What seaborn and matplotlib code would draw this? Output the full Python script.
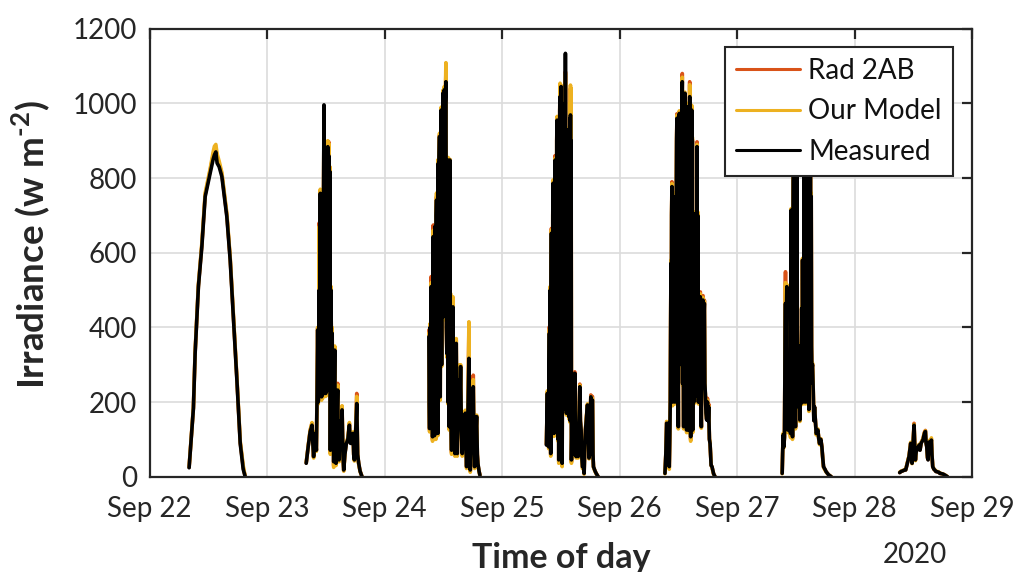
import matplotlib
matplotlib.use("Agg")
import matplotlib.pyplot as plt
import matplotlib.dates as mdates
import pandas as pd
import seaborn as sns

# Irradiance per day: (hour of day, Measured, Our Model, Rad 2AB) in W m^-2
sep22 = [
    (8.08, 24, 26, 25), (8.96, 183, 186, 185), (9.31, 330, 335, 333),
    (9.98, 509, 515, 512), (10.68, 616, 625, 620), (11.36, 750, 760, 755),
    (12.38, 813, 825, 820), (12.99, 850, 870, 862), (13.25, 862, 885, 875),
    (13.54, 870, 890, 880), (13.8, 840, 865, 852), (14.22, 830, 845, 838),
    (14.77, 804, 815, 810), (15.79, 696, 705, 700), (16.47, 580, 588, 584),
    (17.15, 420, 428, 424), (17.84, 259, 265, 262), (18.52, 89, 95, 92),
    (19.13, 20, 30, 25), (19.54, 0, 0, 0),
]

sep23 = [
    (8.0, 36, 38, 37), (8.4, 80, 82, 81), (8.8, 120, 125, 123),
    (9.18, 138, 145, 143), (9.35, 90, 92, 91), (9.51, 54, 50, 52),
    (9.7, 100, 104, 102), (9.86, 116, 120, 118), (10.07, 71, 68, 70),
    (10.2, 200, 210, 208), (10.34, 393, 400, 398), (10.45, 200, 195, 198),
    (10.54, 214, 220, 218), (10.65, 500, 670, 680), (10.75, 230, 225, 228),
    (10.88, 759, 770, 765), (11.0, 230, 220, 225), (11.15, 214, 205, 210),
    (11.25, 600, 620, 615), (11.36, 220, 210, 215), (11.5, 650, 660, 655),
    (11.63, 996, 960, 965), (11.75, 240, 230, 235), (11.85, 700, 710, 705),
    (11.98, 223, 215, 220), (12.1, 800, 815, 810), (12.25, 230, 220, 225),
    (12.4, 884, 900, 895), (12.5, 240, 230, 235), (12.6, 860, 893, 897),
    (12.73, 250, 240, 245), (12.85, 817, 830, 828), (12.93, 71, 60, 65),
    (13.05, 500, 510, 505), (13.2, 260, 250, 255), (13.3, 384, 400, 395),
    (13.41, 100, 90, 95), (13.5, 300, 348, 340), (13.61, 40, 25, 30),
    (13.72, 250, 255, 252), (13.82, 339, 350, 345), (13.95, 60, 50, 55),
    (14.09, 36, 30, 33), (14.25, 150, 155, 152), (14.43, 232, 245, 250),
    (14.55, 60, 55, 58), (14.7, 45, 40, 42), (14.85, 120, 125, 122),
    (14.98, 150, 155, 153), (15.15, 80, 78, 79), (15.32, 179, 190, 188),
    (15.5, 60, 55, 58), (15.66, 18, 15, 16), (15.9, 60, 62, 61),
    (16.2, 89, 92, 90), (16.5, 100, 104, 102), (16.82, 138, 145, 142),
    (17.0, 90, 92, 91), (17.16, 89, 90, 90), (17.35, 110, 113, 112),
    (17.57, 116, 120, 118), (17.7, 60, 58, 59), (17.84, 45, 42, 44),
    (18.1, 120, 125, 123), (18.32, 196, 215, 223), (18.5, 60, 58, 59),
    (18.72, 36, 33, 35), (19.0, 15, 14, 15), (19.4, 0, 0, 0),
]

sep24 = [
    (9.05, 375, 385, 393), (9.12, 200, 195, 198), (9.2, 129, 120, 125),
    (9.3, 400, 410, 408), (9.4, 150, 145, 148), (9.53, 509, 520, 536),
    (9.62, 130, 125, 128), (9.72, 450, 460, 455), (9.8, 107, 95, 100),
    (9.87, 600, 610, 605), (9.94, 643, 660, 674), (10.02, 140, 135, 138),
    (10.1, 550, 560, 555), (10.2, 110, 100, 105), (10.28, 670, 665, 674),
    (10.38, 200, 195, 198), (10.48, 116, 100, 108), (10.55, 700, 710, 705),
    (10.62, 741, 760, 750), (10.7, 150, 145, 148), (10.8, 650, 660, 655),
    (10.89, 116, 110, 113), (10.96, 839, 850, 845), (11.05, 220, 215, 218),
    (11.15, 850, 860, 855), (11.23, 911, 920, 915), (11.3, 250, 245, 248),
    (11.37, 214, 205, 210), (11.47, 900, 910, 905), (11.57, 982, 990, 985),
    (11.65, 300, 295, 298), (11.75, 960, 970, 965), (11.85, 430, 425, 428),
    (11.91, 1027, 1035, 1030), (12.0, 450, 445, 448), (12.05, 429, 420, 425),
    (12.12, 980, 990, 985), (12.19, 1036, 1045, 1040), (12.3, 500, 495, 498),
    (12.4, 1000, 1010, 1005), (12.53, 1058, 1109, 1085), (12.63, 400, 395, 398),
    (12.73, 330, 320, 325), (12.85, 820, 830, 825), (12.93, 200, 195, 198),
    (13.01, 848, 855, 852), (13.1, 300, 295, 298), (13.21, 134, 125, 130),
    (13.28, 700, 710, 705), (13.35, 848, 850, 849), (13.42, 250, 245, 248),
    (13.48, 420, 491, 480), (13.58, 150, 145, 148), (13.69, 71, 60, 65),
    (13.8, 300, 310, 305), (13.96, 455, 482, 470), (14.06, 200, 195, 198),
    (14.16, 321, 330, 325), (14.26, 150, 145, 148), (14.37, 62, 55, 58),
    (14.5, 200, 205, 202), (14.64, 357, 370, 365), (14.75, 150, 145, 148),
    (14.85, 62, 55, 58), (15.0, 150, 155, 152), (15.12, 259, 299, 290),
    (15.22, 180, 178, 179), (15.32, 152, 150, 151), (15.42, 220, 225, 222),
    (15.53, 295, 300, 298), (15.7, 120, 118, 119), (15.87, 62, 55, 58),
    (16.05, 120, 122, 121), (16.21, 152, 158, 155), (16.35, 100, 98, 99),
    (16.48, 170, 178, 175), (16.62, 80, 78, 79), (16.76, 27, 22, 25),
    (17.0, 150, 155, 152), (17.23, 317, 415, 400), (17.35, 100, 98, 99),
    (17.51, 18, 12, 15), (17.7, 120, 122, 121), (17.85, 161, 165, 163),
    (18.0, 150, 152, 151), (18.12, 241, 260, 272), (18.25, 100, 98, 99),
    (18.39, 27, 22, 25), (18.6, 100, 102, 101), (18.8, 161, 165, 163),
    (18.95, 60, 58, 59), (19.07, 35, 30, 33), (19.3, 15, 14, 15),
    (19.48, 4, 3, 4),
]

sep25 = [
    (9.06, 85, 88, 86), (9.15, 150, 155, 152), (9.26, 223, 230, 226),
    (9.35, 110, 108, 109), (9.45, 90, 88, 89), (9.53, 80, 75, 78),
    (9.6, 300, 310, 305), (9.67, 384, 395, 402), (9.75, 120, 115, 118),
    (9.85, 500, 510, 505), (9.94, 62, 55, 58), (10.0, 400, 410, 405),
    (10.08, 652, 661, 665), (10.15, 150, 145, 148), (10.22, 600, 610, 605),
    (10.29, 125, 118, 120), (10.36, 700, 710, 705), (10.42, 786, 795, 790),
    (10.5, 200, 195, 198), (10.55, 650, 660, 655), (10.62, 116, 108, 112),
    (10.7, 780, 790, 785), (10.77, 300, 295, 298), (10.83, 848, 853, 860),
    (10.9, 150, 145, 148), (10.97, 800, 810, 805), (11.03, 200, 195, 198),
    (11.1, 196, 190, 193), (11.17, 900, 910, 905), (11.24, 955, 965, 960),
    (11.3, 300, 295, 298), (11.38, 850, 860, 855), (11.45, 100, 95, 98),
    (11.52, 900, 910, 905), (11.58, 45, 36, 40), (11.65, 950, 960, 955),
    (11.72, 250, 245, 248), (11.78, 980, 990, 985), (11.85, 1018, 1054, 1045),
    (11.92, 200, 195, 198), (11.99, 1000, 1010, 1005), (12.06, 1045, 1049, 1047),
    (12.13, 150, 145, 148), (12.2, 950, 960, 955), (12.27, 36, 27, 30),
    (12.33, 300, 295, 298), (12.4, 900, 910, 905), (12.47, 180, 175, 178),
    (12.54, 938, 945, 940), (12.6, 300, 295, 298), (12.67, 900, 910, 905),
    (12.74, 241, 235, 238), (12.8, 1000, 1005, 1002), (12.87, 200, 195, 198),
    (12.94, 1134, 1080, 1085), (13.0, 180, 175, 178), (13.08, 900, 910, 905),
    (13.15, 170, 165, 168), (13.22, 850, 860, 855), (13.3, 200, 195, 198),
    (13.36, 900, 930, 920), (13.42, 929, 933, 931), (13.5, 300, 295, 298),
    (13.56, 850, 860, 855), (13.63, 161, 155, 158), (13.7, 880, 890, 885),
    (13.77, 200, 195, 198), (13.85, 960, 1000, 990), (13.91, 150, 145, 148),
    (13.97, 969, 1049, 1040), (14.05, 300, 295, 298), (14.1, 900, 1040, 1030),
    (14.17, 45, 36, 40), (14.3, 150, 152, 151), (14.4, 200, 205, 202),
    (14.51, 152, 150, 151), (14.6, 60, 55, 58), (14.7, 150, 152, 151),
    (14.85, 277, 275, 281), (14.95, 150, 148, 149), (15.05, 60, 55, 58),
    (15.13, 54, 50, 52), (15.3, 100, 102, 101), (15.4, 60, 58, 59),
    (15.54, 54, 50, 52), (15.7, 150, 155, 152), (15.88, 241, 245, 248),
    (16.0, 150, 148, 149), (16.15, 125, 122, 124), (16.3, 50, 45, 48),
    (16.42, 27, 22, 25), (16.6, 30, 28, 29), (16.76, 9, 7, 8),
    (16.9, 80, 82, 81), (17.04, 125, 128, 127), (17.25, 160, 165, 163),
    (17.45, 192, 195, 194), (17.6, 120, 118, 119), (17.75, 50, 48, 49),
    (17.92, 62, 60, 61), (18.0, 150, 155, 153), (18.13, 214, 215, 219),
    (18.3, 200, 205, 210), (18.47, 205, 210, 215), (18.57, 60, 58, 59),
    (18.67, 27, 25, 26), (19.0, 15, 14, 15), (19.22, 9, 8, 9),
    (19.63, 0, 0, 0),
]

sep26 = [
    (9.27, 9, 8, 9), (9.45, 60, 62, 61), (9.61, 143, 148, 146),
    (9.8, 143, 146, 145), (9.95, 143, 146, 145), (10.05, 60, 58, 59),
    (10.15, 27, 20, 24), (10.25, 100, 102, 101), (10.36, 205, 210, 208),
    (10.43, 400, 410, 405), (10.5, 571, 580, 575), (10.57, 300, 295, 298),
    (10.63, 700, 710, 705), (10.7, 777, 785, 790), (10.77, 400, 395, 398),
    (10.83, 200, 190, 195), (10.9, 500, 510, 505), (10.97, 277, 300, 290),
    (11.04, 600, 610, 605), (11.11, 750, 760, 755), (11.18, 393, 400, 397),
    (11.25, 700, 710, 705), (11.31, 200, 195, 198), (11.38, 214, 210, 212),
    (11.45, 750, 760, 755), (11.52, 300, 295, 298), (11.59, 759, 770, 765),
    (11.65, 900, 910, 905), (11.72, 960, 968, 972), (11.79, 200, 195, 198),
    (11.86, 900, 910, 905), (11.93, 400, 395, 398), (12.0, 134, 128, 131),
    (12.07, 950, 960, 955), (12.13, 300, 295, 298), (12.2, 973, 980, 977),
    (12.27, 600, 605, 602), (12.33, 950, 960, 955), (12.4, 330, 325, 328),
    (12.47, 800, 810, 805), (12.54, 950, 960, 955), (12.61, 960, 970, 965),
    (12.68, 300, 295, 298), (12.75, 1000, 1010, 1005), (12.81, 1058, 1070, 1080),
    (12.88, 250, 245, 248), (12.95, 900, 910, 905), (13.02, 400, 395, 398),
    (13.09, 134, 128, 131), (13.16, 900, 910, 905), (13.23, 300, 295, 298),
    (13.3, 950, 960, 955), (13.36, 1027, 1030, 1025), (13.43, 500, 495, 498),
    (13.5, 900, 910, 905), (13.56, 840, 850, 845), (13.63, 300, 295, 298),
    (13.7, 125, 118, 122), (13.77, 850, 860, 855), (13.84, 250, 245, 248),
    (13.91, 991, 1000, 995), (13.98, 300, 295, 298), (14.04, 900, 910, 905),
    (14.11, 125, 118, 122), (14.18, 950, 960, 955), (14.25, 300, 295, 298),
    (14.32, 1018, 1050, 1058), (14.38, 250, 245, 248), (14.45, 600, 610, 605),
    (14.52, 107, 95, 100), (14.59, 700, 710, 705), (14.66, 250, 245, 248),
    (14.73, 982, 995, 990), (14.8, 300, 295, 298), (14.86, 900, 910, 905),
    (14.93, 125, 118, 122), (15.0, 600, 610, 605), (15.07, 300, 295, 298),
    (15.13, 705, 710, 708), (15.2, 200, 195, 198), (15.27, 500, 510, 505),
    (15.34, 214, 210, 212), (15.45, 300, 305, 302), (15.55, 259, 255, 257),
    (15.61, 259, 255, 257), (15.68, 700, 710, 705), (15.75, 300, 295, 298),
    (15.82, 884, 890, 897), (15.9, 400, 395, 398), (15.96, 700, 710, 705),
    (16.02, 500, 495, 498), (16.1, 200, 195, 198), (16.16, 350, 355, 352),
    (16.22, 277, 275, 276), (16.3, 450, 455, 452), (16.38, 200, 195, 198),
    (16.45, 480, 488, 492), (16.5, 482, 490, 495), (16.57, 300, 295, 298),
    (16.63, 200, 195, 198), (16.7, 134, 130, 132), (16.8, 400, 405, 402),
    (16.9, 250, 245, 248), (17.0, 470, 478, 482), (17.04, 473, 480, 485),
    (17.12, 300, 295, 298), (17.2, 400, 405, 402), (17.32, 464, 470, 473),
    (17.42, 250, 245, 248), (17.52, 223, 220, 222), (17.65, 170, 172, 171),
    (17.79, 152, 155, 154), (17.95, 200, 205, 210), (18.1, 150, 152, 151),
    (18.2, 187, 190, 195), (18.35, 100, 102, 101), (18.48, 89, 90, 89),
    (18.7, 30, 32, 31), (18.88, 27, 25, 26), (19.2, 8, 7, 8),
    (19.5, 0, 0, 0),
]

sep27 = [
    (9.21, 9, 8, 9), (9.3, 60, 62, 61), (9.41, 112, 116, 114),
    (9.55, 80, 78, 79), (9.68, 107, 105, 106), (9.78, 300, 310, 305),
    (9.89, 464, 520, 549), (9.97, 200, 195, 198), (10.05, 400, 410, 405),
    (10.16, 509, 515, 512), (10.25, 200, 195, 198), (10.37, 125, 118, 122),
    (10.5, 300, 305, 302), (10.64, 152, 148, 150), (10.78, 250, 255, 252),
    (10.91, 116, 105, 110), (10.98, 500, 510, 505), (11.05, 714, 718, 716),
    (11.15, 200, 195, 198), (11.25, 450, 455, 452), (11.32, 107, 100, 104),
    (11.4, 600, 610, 605), (11.5, 950, 960, 955), (11.59, 900, 910, 905),
    (11.68, 300, 295, 298), (11.78, 800, 810, 805), (11.86, 200, 195, 198),
    (11.93, 134, 128, 131), (12.05, 600, 610, 605), (12.15, 545, 550, 548),
    (12.21, 980, 990, 985), (12.3, 400, 395, 398), (12.4, 250, 245, 248),
    (12.55, 187, 182, 185), (12.65, 350, 355, 352), (12.75, 200, 195, 198),
    (12.82, 152, 148, 150), (12.95, 300, 305, 302), (13.09, 196, 192, 194),
    (13.2, 450, 455, 452), (13.3, 250, 245, 248), (13.37, 580, 585, 583),
    (13.47, 200, 195, 198), (13.57, 214, 210, 212), (13.65, 700, 710, 705),
    (13.72, 950, 960, 955), (13.8, 300, 295, 298), (13.85, 1020, 1030, 1025),
    (13.93, 200, 195, 198), (14.0, 900, 910, 905), (14.06, 250, 245, 248),
    (14.12, 205, 200, 202), (14.2, 850, 860, 855), (14.28, 300, 295, 298),
    (14.35, 950, 960, 955), (14.4, 200, 195, 198), (14.46, 1060, 1070, 1065),
    (14.53, 250, 245, 248), (14.6, 850, 860, 855), (14.67, 180, 175, 178),
    (14.73, 241, 238, 240), (14.8, 700, 710, 705), (14.87, 250, 245, 248),
    (14.93, 900, 910, 905), (15.0, 880, 890, 885), (15.07, 300, 295, 298),
    (15.14, 750, 760, 755), (15.21, 350, 345, 348), (15.28, 286, 280, 283),
    (15.4, 300, 305, 302), (15.55, 232, 236, 234), (15.68, 150, 152, 151),
    (15.82, 187, 185, 187), (16.0, 150, 148, 149), (16.16, 116, 112, 114),
    (16.35, 120, 122, 121), (16.5, 125, 128, 126), (16.7, 100, 98, 99),
    (16.84, 89, 86, 88), (17.1, 100, 102, 101), (17.32, 80, 78, 79),
    (17.5, 50, 48, 49), (17.66, 27, 25, 26), (17.95, 20, 18, 19),
    (18.21, 13, 12, 13), (18.7, 5, 5, 5), (19.23, 0, 0, 0),
]

sep28 = [
    (9.21, 11, 12, 11), (9.5, 14, 15, 14), (9.9, 16, 17, 16),
    (10.2, 18, 19, 18), (10.44, 18, 19, 18), (10.78, 36, 38, 37),
    (11.12, 54, 56, 55), (11.46, 89, 92, 90), (11.6, 60, 62, 61),
    (11.74, 36, 35, 36), (11.95, 90, 93, 92), (12.15, 138, 140, 143),
    (12.3, 80, 82, 81), (12.42, 45, 43, 44), (12.6, 70, 72, 71),
    (12.76, 71, 73, 72), (13.03, 80, 82, 81), (13.2, 85, 87, 86),
    (13.37, 71, 73, 72), (13.6, 90, 92, 91), (13.78, 94, 97, 96),
    (14.0, 100, 103, 102), (14.19, 112, 115, 116), (14.33, 118, 120, 121),
    (14.47, 121, 123, 124), (14.6, 90, 92, 91), (14.74, 80, 82, 81),
    (14.9, 50, 52, 51), (15.01, 45, 47, 46), (15.2, 90, 93, 92),
    (15.35, 94, 98, 96), (15.5, 80, 84, 82), (15.69, 98, 104, 100),
    (15.8, 60, 62, 61), (15.96, 27, 28, 27), (16.2, 20, 21, 20),
    (16.37, 18, 19, 18), (16.6, 14, 15, 14), (16.92, 13, 14, 13),
    (17.2, 12, 12, 12), (17.4, 9, 10, 9), (17.8, 8, 8, 8),
    (18.08, 7, 7, 7), (18.5, 4, 4, 4), (18.97, 0, 0, 0),
]

daily_tables = [sep22, sep23, sep24, sep25, sep26, sep27, sep28]
first_day = pd.Timestamp("2020-09-22")
series_names = ["Rad 2AB", "Our Model", "Measured"]
series_colors = ["#D95319", "#EDB120", "#000000"]
column_of = {"Measured": 1, "Our Model": 2, "Rad 2AB": 3}

rows = []
for day_index, table in enumerate(daily_tables):
    for record in table:
        stamp = first_day + pd.Timedelta(days=day_index, hours=record[0])
        for name in series_names:
            rows.append({"time": stamp, "irradiance": record[column_of[name]],
                         "series": name, "day": day_index})
df = pd.DataFrame(rows)

sns.set_style("white")
plt.rcParams["font.family"] = ["Lato", "DejaVu Sans"]
plt.rcParams["mathtext.fontset"] = "custom"
plt.rcParams["mathtext.rm"] = "Lato"
plt.rcParams["mathtext.bf"] = "Lato:bold"

ink = "#262626"
fig = plt.figure(figsize=(10.18, 5.72), dpi=100)
ax = fig.add_axes([0.1469, 0.1666, 0.8080, 0.7832])

sns.lineplot(data=df, x="time", y="irradiance", hue="series", units="day",
             estimator=None, hue_order=series_names, palette=series_colors,
             linewidth=2.6, sort=False, ax=ax)

ax.set_xlim(first_day, first_day + pd.Timedelta(days=7))
ax.set_ylim(0, 1200)
ax.set_yticks(range(0, 1201, 200))
ax.xaxis.set_major_locator(mdates.DayLocator())
ax.xaxis.set_major_formatter(mdates.DateFormatter("%b %d"))

ax.grid(True, color="#DCDCDC", linewidth=1.2)
ax.set_axisbelow(True)
for spine in ax.spines.values():
    spine.set_visible(True)
    spine.set_color(ink)
    spine.set_linewidth(1.6)
ax.tick_params(direction="in", length=7, width=1.6, top=True, right=True,
               labelsize=20, color=ink, labelcolor=ink)
ax.tick_params(axis="x", pad=14)
ax.tick_params(axis="y", pad=9)

ax.set_xlabel("Time of day", fontsize=24.5, fontweight="bold", color=ink)
ax.xaxis.set_label_coords(0.5, -0.145)
ax.set_ylabel("Irradiance (w m$^{\\mathbf{\u20102}}$)", fontsize=26.5,
              fontweight="bold", color=ink)
ax.yaxis.set_label_coords(-0.116, 0.517)
fig.text(0.8984, 0.016, "2020", fontsize=20, color=ink, ha="center")

handles, labels = ax.get_legend_handles_labels()
leg = ax.legend(handles, labels, loc="upper right",
                bbox_to_anchor=(0.9769, 0.9598), borderaxespad=0,
                fancybox=False, framealpha=1, edgecolor=ink, fontsize=20,
                handlelength=2.3, handletextpad=0.3, labelspacing=0.52,
                borderpad=0.4)
leg.get_frame().set_linewidth(1.5)
for line in leg.get_lines():
    line.set_linewidth(2.2)
for text in leg.get_texts():
    text.set_color("#111111")

fig.savefig("out.png", dpi=100)
